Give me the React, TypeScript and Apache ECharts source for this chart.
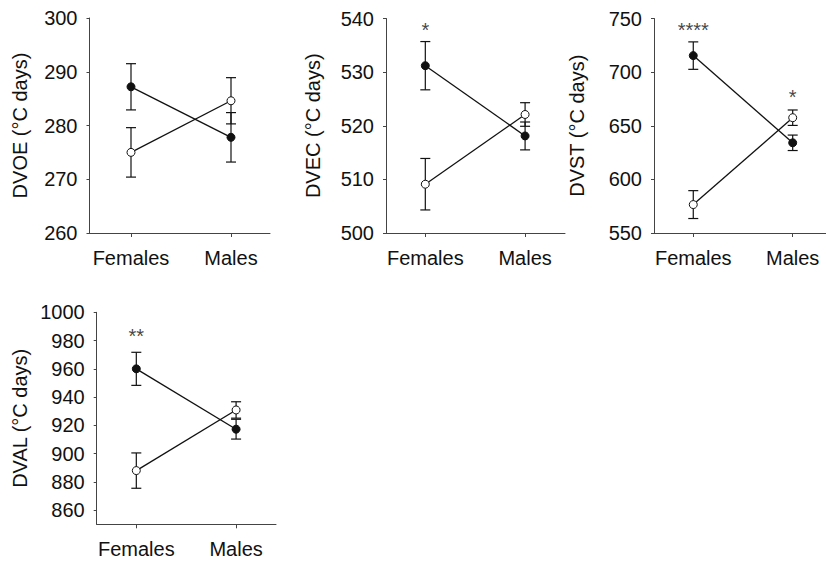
import React, { useEffect, useRef } from "react";
import * as echarts from "echarts";

// ---- data ----
const categories = ["Females", "Males"];
const traits = ["DVOE", "DVEC", "DVST", "DVAL"];
const filledMeans = [
  [287.2, 277.8],
  [531.2, 518.1],
  [715.4, 634.1],
  [960.0, 917.3],
];
const filledErr = [
  [4.3, 4.6],
  [4.5, 2.6],
  [12.8, 7.2],
  [11.7, 7.0],
];
const openMeans = [
  [275.0, 284.6],
  [509.1, 522.1],
  [576.5, 657.5],
  [888.0, 930.9],
];
const openErr = [
  [4.6, 4.3],
  [4.8, 2.2],
  [13.0, 7.2],
  [12.5, 5.8],
];
// significance stars: [panel, categoryIndex, label, value]
const stars: [number, number, string, number][] = [
  [1, 0, "*", 538.3],
  [2, 0, "****", 741],
  [2, 1, "*", 679],
  [3, 0, "**", 984.6],
];
const yMin = [260, 500, 550, 850];
const yMax = [300, 540, 750, 1000];
const yInterval = [10, 10, 50, 20];
const yTickValues4 = [860, 880, 900, 920, 940, 960, 980, 1000];

// ---- layout ----
const grids = [
  { left: 89.5, top: 18, width: 180.5, height: 215, xMin: -0.415, xMax: 1.39, nameGap: 60 },
  { left: 386, top: 18.5, width: 179, height: 214.5, xMin: -0.394, xMax: 1.4, nameGap: 63.5 },
  { left: 654, top: 18.5, width: 172, height: 214.5, xMin: -0.395, xMax: 1.335, nameGap: 67.5 },
  { left: 96.7, top: 312.3, width: 179.3, height: 212, xMin: -0.397, xMax: 1.4, nameGap: 67 },
];

const FONT = "Liberation Sans";
const INK = "#111";
const AXIS = "#444";

export default function App() {
  const ref = useRef<HTMLDivElement>(null);
  useEffect(() => {
    if (!ref.current) return;
    const chart = echarts.init(ref.current, undefined, { renderer: "svg" });

    const errRender = (params: any, api: any) => {
      const x = api.value(0);
      const lo = api.value(1);
      const hi = api.value(2);
      const pHi = api.coord([x, hi]);
      const pLo = api.coord([x, lo]);
      const w = 5;
      const st = { stroke: INK, lineWidth: 1.2 };
      return {
        type: "group",
        children: [
          { type: "line", shape: { x1: pHi[0], y1: pHi[1], x2: pLo[0], y2: pLo[1] }, style: st },
          { type: "line", shape: { x1: pHi[0] - w, y1: pHi[1], x2: pHi[0] + w, y2: pHi[1] }, style: st },
          { type: "line", shape: { x1: pLo[0] - w, y1: pLo[1], x2: pLo[0] + w, y2: pLo[1] }, style: st },
        ],
      };
    };

    const grid = grids.map((g) => ({ left: g.left, top: g.top, width: g.width, height: g.height }));
    const xAxis = grids.map((g, i) => ({
      type: "value",
      gridIndex: i,
      min: g.xMin,
      max: g.xMax,
      splitLine: { show: false },
      axisLine: { show: true, onZero: false, lineStyle: { color: AXIS, width: 1 } },
      axisTick: { show: true, customValues: [0, 1], length: 4, lineStyle: { color: AXIS } },
      axisLabel: {
        customValues: [0, 1],
        formatter: (v: number) => categories[Math.round(v)],
        fontSize: 20,
        fontFamily: FONT,
        color: INK,
        margin: 15,
      },
    }));
    const yAxis = grids.map((g, i) => {
      const base: any = {
        type: "value",
        gridIndex: i,
        min: yMin[i],
        max: yMax[i],
        name: `${traits[i]} (°C days)`,
        nameLocation: "middle",
        nameGap: g.nameGap,
        nameTextStyle: { fontSize: 20, fontFamily: FONT, color: INK },
        splitLine: { show: false },
        axisLine: { show: true, onZero: false, lineStyle: { color: AXIS, width: 1 } },
        axisTick: { show: true, length: 3, lineStyle: { color: AXIS } },
        axisLabel: {
          fontSize: 20,
          fontFamily: FONT,
          color: INK,
          margin: 12,
          formatter: (v: number) => String(v),
        },
      };
      if (i === 3) {
        base.axisTick.customValues = yTickValues4;
        base.axisLabel.customValues = yTickValues4;
      } else {
        base.interval = yInterval[i];
      }
      return base;
    });

    const series: any[] = [];
    for (let i = 0; i < 4; i++) {
      series.push({
        type: "custom",
        xAxisIndex: i,
        yAxisIndex: i,
        renderItem: errRender,
        encode: { x: 0, y: [1, 2] },
        z: 2,
        data: [0, 1].map((c) => [c, filledMeans[i][c] - filledErr[i][c], filledMeans[i][c] + filledErr[i][c]]),
      });
      series.push({
        type: "custom",
        xAxisIndex: i,
        yAxisIndex: i,
        renderItem: errRender,
        encode: { x: 0, y: [1, 2] },
        z: 2,
        data: [0, 1].map((c) => [c, openMeans[i][c] - openErr[i][c], openMeans[i][c] + openErr[i][c]]),
      });
      series.push({
        type: "line",
        xAxisIndex: i,
        yAxisIndex: i,
        z: 3,
        data: [0, 1].map((c) => [c, filledMeans[i][c]]),
        lineStyle: { color: INK, width: 1.3 },
        symbol: "circle",
        symbolSize: 8,
        itemStyle: { color: INK, borderColor: INK, borderWidth: 1 },
      });
      series.push({
        type: "line",
        xAxisIndex: i,
        yAxisIndex: i,
        z: 3,
        data: [0, 1].map((c) => [c, openMeans[i][c]]),
        lineStyle: { color: INK, width: 1.3 },
        symbol: "circle",
        symbolSize: 8,
        itemStyle: { color: "#fff", borderColor: INK, borderWidth: 1 },
      });
      const st = stars.filter((s) => s[0] === i);
      if (st.length) {
        series.push({
          type: "scatter",
          xAxisIndex: i,
          yAxisIndex: i,
          symbolSize: 0,
          z: 4,
          data: st.map((s) => ({ value: [s[1], s[3]], name: s[2] })),
          label: {
            show: true,
            position: "inside",
            formatter: (p: any) => p.name,
            fontSize: 20,
            fontFamily: FONT,
            color: INK,
            textBorderWidth: 0,
            textBorderColor: "transparent",
            offset: [0, 2],
          },
        });
      }
    }

    chart.setOption({
      animation: false,
      backgroundColor: "#fff",
      grid,
      xAxis,
      yAxis,
      series,
    });
    return () => chart.dispose();
  }, []);
  return (
    <div
      ref={ref}
      style={{ position: "absolute", left: 0, top: 0, width: 826, height: 562 }}
    />
  );
}
